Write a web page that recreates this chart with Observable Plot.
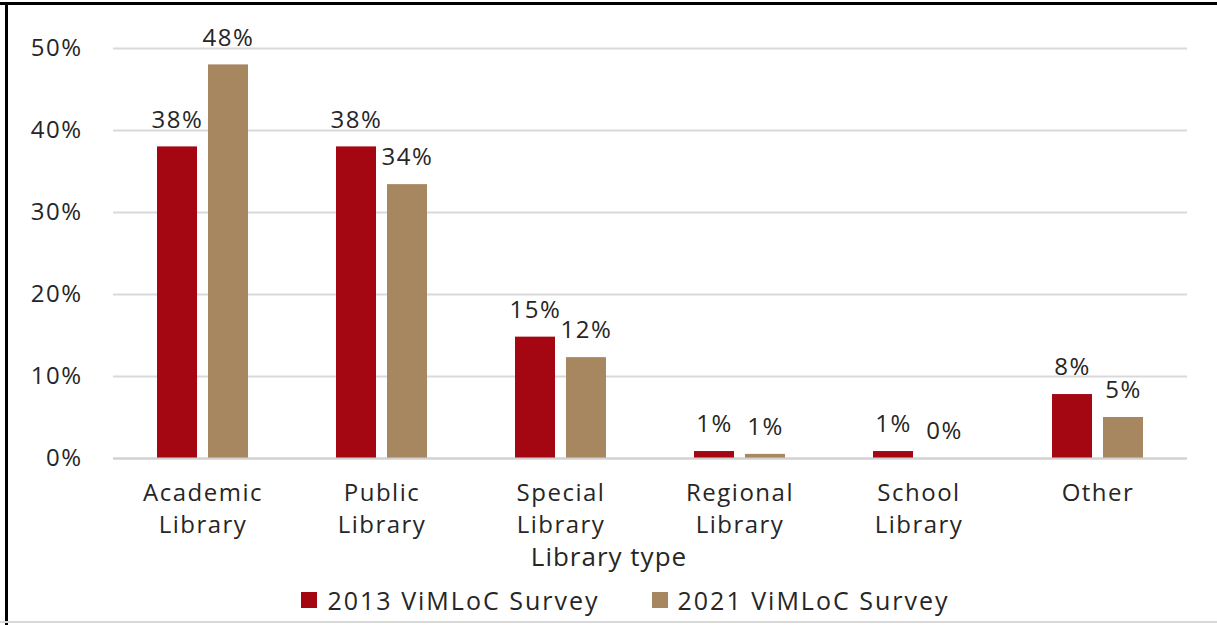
<!DOCTYPE html>
<html>
<head>
<meta charset="utf-8">
<script src="https://cdn.jsdelivr.net/npm/d3@7"></script>
<script src="https://cdn.jsdelivr.net/npm/@observablehq/plot@0.6"></script>
<style>
  html, body { margin: 0; padding: 0; background: #fff; }
  #frame { position: relative; width: 1217px; height: 625px; box-sizing: border-box; overflow: hidden; background: #fff; }
  #frame .bt { position: absolute; left: 0; top: 2px; width: 1217px; height: 3px; background: #000; }
  #frame .bl { position: absolute; left: 5px; top: 2px; width: 3px; height: 623px; background: #000; }
  #frame .bb { position: absolute; left: 0; top: 621px; width: 1217px; height: 2px; background: #d9d9d9; }
  #chart { position: absolute; left: 0; top: 0; }
  #chart svg text { letter-spacing: 1.5px; }
  #xtitle { position: absolute; left: 0; top: 539px; width: 1218px; height: 34px; line-height: 34px; text-align: center; font-family: "Open Sans", sans-serif; font-size: 26px; letter-spacing: 1px; color: #262626; white-space: nowrap; }
  #legend { position: absolute; left: 34px; top: 583px; width: 1183px; height: 30px; line-height: 30px; text-align: center; font-family: "Open Sans", sans-serif; font-size: 25px; letter-spacing: 2px; color: #262626; white-space: nowrap; }
  #legend .item { display: inline-flex; align-items: center; margin: 0 26px; }
  #legend .sw { width: 16px; height: 16px; margin-right: 10px; display: inline-block; }
</style>
</head>
<body>
<div id="frame">
  <div id="chart"></div>
  <div id="xtitle"></div>
  <div id="legend"></div>
  <div class="bt"></div><div class="bl"></div><div class="bb"></div>
</div>
<script>
const categories = ["Academic\nLibrary", "Public\nLibrary", "Special\nLibrary", "Regional\nLibrary", "School\nLibrary", "Other"];
const series = ["2013 ViMLoC Survey", "2021 ViMLoC Survey"];
const colors = ["#a50712", "#a7875f"];
const values2013 = [0.38, 0.38, 0.148, 0.0085, 0.0085, 0.078];
const values2021 = [0.48, 0.334, 0.123, 0.005, 0, 0.05];
const labels2013 = ["38%", "38%", "15%", "1%", "1%", "8%"];
const labels2021 = ["48%", "34%", "12%", "1%", "0%", "5%"];
const yTicks = [0, 0.1, 0.2, 0.3, 0.4, 0.5];
const xTitle = "Library type";

const data = [];
categories.forEach((c, i) => {
  data.push({cat: c, series: series[0], value: values2013[i], label: labels2013[i]});
  data.push({cat: c, series: series[1], value: values2021[i], label: labels2021[i]});
});

const font = "'Open Sans', sans-serif";
const chart = Plot.plot({
  width: 1217,
  height: 578,
  marginLeft: 113,
  marginRight: 30,
  marginTop: 48,
  marginBottom: 120,
  style: {fontFamily: font, fontSize: "24px", color: "#262626", background: "transparent", overflow: "visible"},
  fx: {domain: categories, padding: 0, axis: null},
  x: {domain: series, paddingInner: 0.216, paddingOuter: 0.86, axis: null},
  y: {domain: [0, 0.5], axis: null},
  color: {domain: series, range: colors},
  marks: [
    Plot.gridY(yTicks, {stroke: "#d9d9d9", strokeOpacity: 1, strokeWidth: 2}),
    Plot.axisY(yTicks, {tickFormat: d3.format(".0%"), tickSize: 0, tickPadding: 31, fontSize: 24, label: null}),
    Plot.barY(data, {fx: "cat", x: "series", y: "value", fill: "series"}),
    Plot.ruleY([0], {stroke: "#d0d0d0", strokeWidth: 2}),
    Plot.text(data, {fx: "cat", x: "series", y: "value", text: "label", dy: -27, fontSize: 24, fill: "#262626"}),
    Plot.axisFx({anchor: "bottom", tickSize: 0, tickPadding: 20, fontSize: 24, lineHeight: 1.33, label: null})
  ]
});
document.getElementById("chart").appendChild(chart);
document.getElementById("xtitle").textContent = xTitle;

const legend = document.getElementById("legend");
series.forEach((s, i) => {
  const item = document.createElement("span");
  item.className = "item";
  const sw = document.createElement("span");
  sw.className = "sw";
  sw.style.background = colors[i];
  item.appendChild(sw);
  item.appendChild(document.createTextNode(s));
  legend.appendChild(item);
});
</script>
</body>
</html>
